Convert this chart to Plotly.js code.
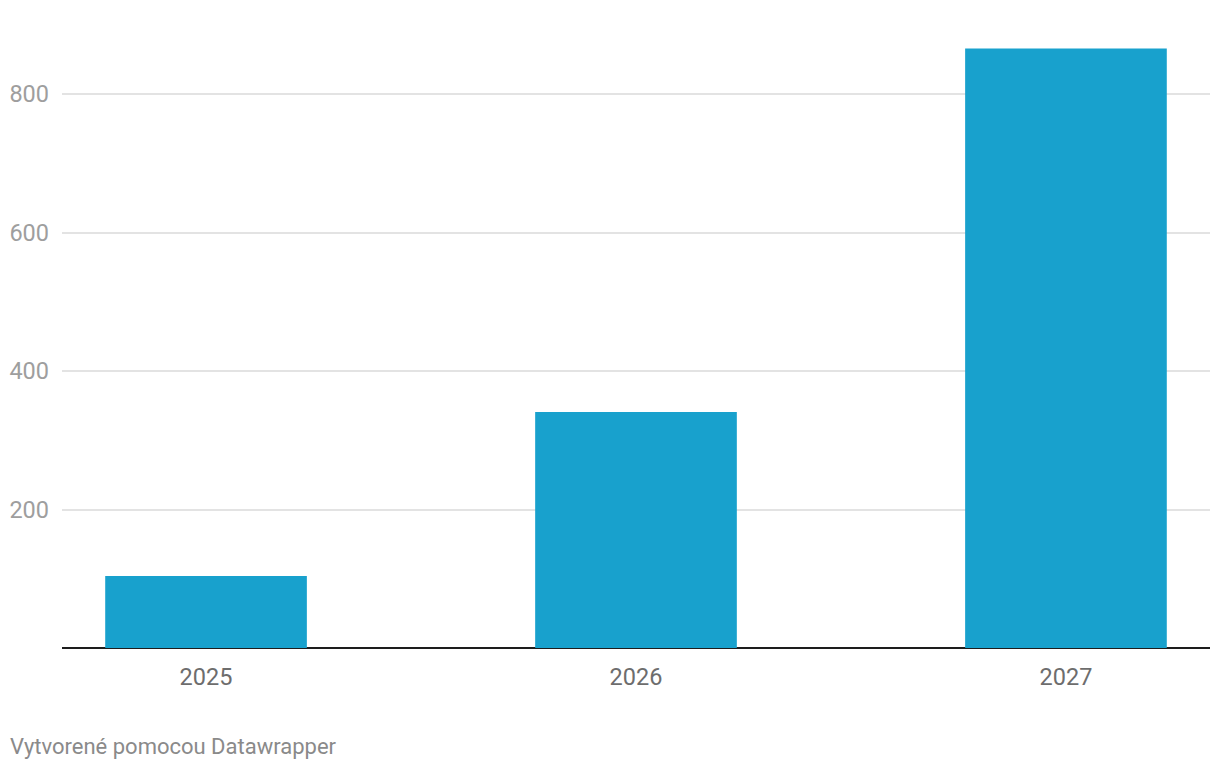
<!DOCTYPE html>
<html>
<head>
<meta charset="utf-8">
<script src="https://cdn.plot.ly/plotly-3.0.1.min.js"></script>
<style>
html,body{margin:0;padding:0;background:#fff;}
#chart{width:1220px;height:770px;}
</style>
</head>
<body>
<div id="chart"></div>
<script>
const years = ["2025", "2026", "2027"];
const values = [104, 341, 866];
const yTicks = [200, 400, 600, 800];
const footer = "Vytvorené pomocou Datawrapper";

const trace = {
  type: "bar",
  x: years,
  y: values,
  marker: {color: "#18a1cd"},
  hoverinfo: "x+y"
};

const layout = {
  width: 1220,
  height: 770,
  margin: {l: 62, r: 10, t: 25, b: 122},
  paper_bgcolor: "#ffffff",
  plot_bgcolor: "#ffffff",
  font: {family: "Roboto, sans-serif"},
  bargap: 0.531,
  showlegend: false,
  xaxis: {
    type: "category",
    range: [-0.335, 2.335],
    showgrid: false,
    showline: false,
    zeroline: false,
    ticks: "",
    tickfont: {size: 23.5, color: "#6d6d6d"},
    ticklabelstandoff: 12
  },
  yaxis: {
    range: [0, 900],
    tickvals: yTicks,
    ticktext: yTicks.map(String),
    showgrid: true,
    gridcolor: "#e3e3e3",
    gridwidth: 2,
    zeroline: true,
    zerolinecolor: "#1d1d1d",
    zerolinewidth: 2,
    showline: false,
    ticks: "",
    tickfont: {size: 23.5, color: "#9e9e9e"},
    ticklabelstandoff: 12
  },
  annotations: [{
    text: footer,
    xref: "paper", yref: "paper",
    x: 0, y: 0,
    xanchor: "left", yanchor: "middle",
    xshift: -54, yshift: -98,
    showarrow: false,
    font: {size: 22, color: "#8a8a8a"}
  }]
};

Plotly.newPlot("chart", [trace], layout, {displayModeBar: false});
</script>
</body>
</html>
